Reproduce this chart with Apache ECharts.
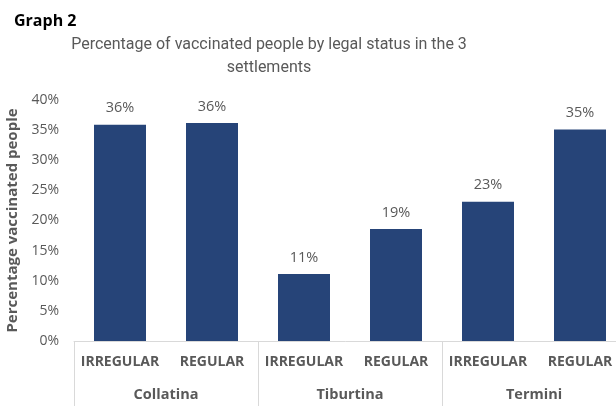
<!DOCTYPE html>
<html>
<head>
<meta charset="utf-8">
<script src="https://cdn.jsdelivr.net/npm/echarts@6/dist/echarts.min.js"></script>
<style>
html,body{margin:0;padding:0;background:#fff;}
#chart{width:616px;height:406px;}
</style>
</head>
<body>
<div id="chart"></div>
<script>
var settlements = ['Collatina', 'Tiburtina', 'Termini'];
var statuses = ['IRREGULAR', 'REGULAR', 'IRREGULAR', 'REGULAR', 'IRREGULAR', 'REGULAR'];
var values = [35.9, 36.2, 11.1, 18.6, 23.1, 35.1];
var yTicks = [0, 5, 10, 15, 20, 25, 30, 35, 40];

var grey = '#595959';
var chart = echarts.init(document.getElementById('chart'), null, {renderer: 'canvas'});
chart.setOption({
  animation: false,
  backgroundColor: '#ffffff',
  title: [
    {text: 'Graph 2', left: 9, top: 8,
     textStyle: {fontFamily: 'Open Sans', fontWeight: 'bold', fontSize: 16, color: '#000'}},
    {text: 'Percentage of vaccinated people by legal status in the 3\nsettlements', left: 264, top: 28, textAlign: 'center',
     textStyle: {fontFamily: 'Roboto', fontWeight: 'normal', fontSize: 16, color: grey, lineHeight: 23}}
  ],
  grid: {left: 74, width: 552, top: 100, bottom: 65, containLabel: false, outerBoundsMode: 'none'},
  xAxis: [
    {type: 'category', data: statuses, position: 'bottom',
     axisLine: {show: false}, axisTick: {show: false},
     axisLabel: {margin: 14, interval: 0, fontFamily: 'Open Sans', fontWeight: 'bold', fontSize: 14, color: grey}},
    {type: 'category', data: settlements, position: 'bottom', offset: 0,
     axisLine: {show: true, lineStyle: {color: '#d9d9d9', width: 1}},
     axisTick: {show: true, length: 66, interval: 0, lineStyle: {color: '#d9d9d9', width: 1}},
     axisLabel: {margin: 46, interval: 0, fontFamily: 'Open Sans', fontWeight: 'bold', fontSize: 14.5, color: grey}}
  ],
  yAxis: {
    type: 'value', min: yTicks[0], max: yTicks[yTicks.length - 1], interval: yTicks[1] - yTicks[0],
    name: 'Percentage vaccinated people', nameLocation: 'middle', nameGap: 48,
    nameTextStyle: {fontFamily: 'Open Sans', fontWeight: 'bold', fontSize: 15, color: grey},
    axisLine: {show: false}, axisTick: {show: false}, splitLine: {show: false},
    axisLabel: {formatter: '{value}%', margin: 15, fontFamily: 'Open Sans', fontSize: 14, color: grey}
  },
  series: [{
    type: 'bar', xAxisIndex: 0, data: values, barWidth: 52,
    itemStyle: {color: '#264478'},
    label: {show: true, position: 'top', distance: 9,
      formatter: function (p) { return Math.round(p.value) + '%'; },
      fontFamily: 'Open Sans', fontSize: 14.5, color: grey}
  }]
});
</script>
</body>
</html>
